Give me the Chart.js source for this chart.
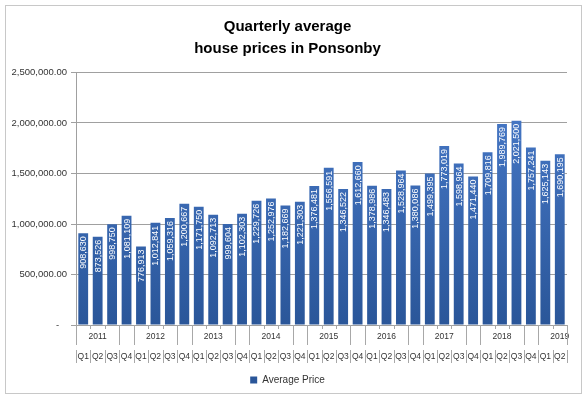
<!DOCTYPE html>
<html>
<head>
<meta charset="utf-8">
<script src="https://cdn.jsdelivr.net/npm/chart.js@4/dist/chart.umd.min.js"></script>
<style>
  body { margin: 0; background: #fff; }
  #wrap { position: relative; width: 587px; height: 399px; }
  #frame { position: absolute; left: 5px; top: 5px; width: 575px; height: 387px; border: 1px solid #c8c8c8; pointer-events: none; }
</style>
</head>
<body>
<div id="wrap">
  <canvas id="priceChart" width="587" height="399"></canvas>
  <div id="frame"></div>
</div>
<script>
const years = ['2011', '2012', '2013', '2014', '2015', '2016', '2017', '2018', '2019'];
const quarters = ['Q1', 'Q2', 'Q3', 'Q4'];
const prices = [
  908630, 873526, 998750, 1081109,
  776913, 1012841, 1059316, 1200667,
  1171750, 1092713, 999604, 1102303,
  1229726, 1252976, 1182669, 1221303,
  1376481, 1556591, 1346522, 1612660,
  1378986, 1346483, 1528964, 1380086,
  1499395, 1773019, 1598964, 1471440,
  1709816, 1989769, 2021500, 1757241,
  1625143, 1690195
];
const yTicks = [0, 500000, 1000000, 1500000, 2000000, 2500000];

// two-row labels: year sits on the Q2 column, like the excel original
const labels = [];
years.forEach(y => {
  quarters.forEach((q, qi) => {
    if (labels.length < prices.length) labels.push([qi === 1 ? y : '', q]);
  });
});

const fmt = n => n.toLocaleString('en-US');

// white rotated value labels inside the bars
const barLabels = {
  id: 'barLabels',
  afterDatasetsDraw(chart) {
    const ctx = chart.ctx;
    const meta = chart.getDatasetMeta(0);
    ctx.save();
    ctx.fillStyle = '#ffffff';
    ctx.font = '9px "Liberation Sans", Arial, sans-serif';
    ctx.textAlign = 'right';
    ctx.textBaseline = 'middle';
    meta.data.forEach((bar, i) => {
      ctx.save();
      ctx.translate(bar.x + 0.5, bar.y + 3);
      ctx.rotate(-Math.PI / 2);
      ctx.fillText(fmt(prices[i]), 0, 0);
      ctx.restore();
    });
    ctx.restore();
  }
};

// separator lines under the x axis (quarter row + year groups)
const axisLines = {
  id: 'axisLines',
  afterDraw(chart) {
    const x = chart.scales.x;
    const ctx = chart.ctx;
    const top = chart.chartArea.bottom;
    const half = (x.getPixelForValue(1) - x.getPixelForValue(0)) / 2;
    ctx.save();
    ctx.strokeStyle = '#a8a8a8';
    ctx.lineWidth = 1;
    for (let i = 0; i <= prices.length; i++) {
      const px = Math.round(i < prices.length ? x.getPixelForValue(i) - half : x.getPixelForValue(prices.length - 1) + half) + 0.5;
      ctx.beginPath();
      ctx.moveTo(px, top);
      ctx.lineTo(px, top + 4);
      if (i % 4 === 0 || i % 4 === 3 || i === prices.length) {
        ctx.moveTo(px, top);
        ctx.lineTo(px, top + 20);
      }
      ctx.moveTo(px, top + 25);
      ctx.lineTo(px, top + 38);
      ctx.stroke();
    }
    ctx.restore();
  }
};

const ctx = document.getElementById('priceChart').getContext('2d');
const grad = ctx.createLinearGradient(0, 72, 0, 325);
grad.addColorStop(0, '#4a7ccc');
grad.addColorStop(1, '#2a5699');

new Chart(ctx, {
  type: 'bar',
  data: {
    labels: labels,
    datasets: [{
      label: 'Average Price',
      data: prices,
      backgroundColor: grad,
      borderWidth: 0,
      barPercentage: 0.68,
      categoryPercentage: 1
    }]
  },
  options: {
    responsive: false,
    animation: false,
    layout: { padding: { left: 8, right: 20, top: 0, bottom: 4 } },
    plugins: {
      title: {
        display: true,
        text: ['Quarterly average', 'house prices in Ponsonby'],
        color: '#000',
        font: { family: '"Liberation Sans", Arial, sans-serif', size: 15, weight: 'bold', lineHeight: 1.45 },
        padding: { top: 16, bottom: 13 }
      },
      legend: {
        position: 'bottom',
        labels: {
          boxWidth: 7,
          boxHeight: 7,
          color: '#333',
          font: { family: '"Liberation Sans", Arial, sans-serif', size: 10 }
        }
      },
      tooltip: { enabled: false }
    },
    scales: {
      x: {
        grid: { display: false },
        border: { display: true, color: '#a0a0a0' },
        ticks: {
          autoSkip: false,
          maxRotation: 0,
          padding: -6,
          color: '#333',
          font: { family: '"Liberation Sans", Arial, sans-serif', size: 8.5, lineHeight: 2.35 }
        },
        afterFit(s) { s.height = 40; }
      },
      y: {
        min: 0,
        max: 2500000,
        afterBuildTicks(s) { s.ticks = yTicks.map(v => ({ value: v })); },
        grid: { color: '#a0a0a0', tickLength: 5, tickColor: '#a0a0a0' },
        border: { display: true, color: '#a0a0a0' },
        ticks: {
          color: '#333',
          padding: 4,
          font: { family: '"Liberation Sans", Arial, sans-serif', size: 9.5 },
          callback: v => v === 0 ? '-   ' : v.toLocaleString('en-US', { minimumFractionDigits: 2 })
        },
        afterFit(s) { s.width = 68; }
      }
    }
  },
  plugins: [barLabels, axisLines]
});
</script>
</body>
</html>
